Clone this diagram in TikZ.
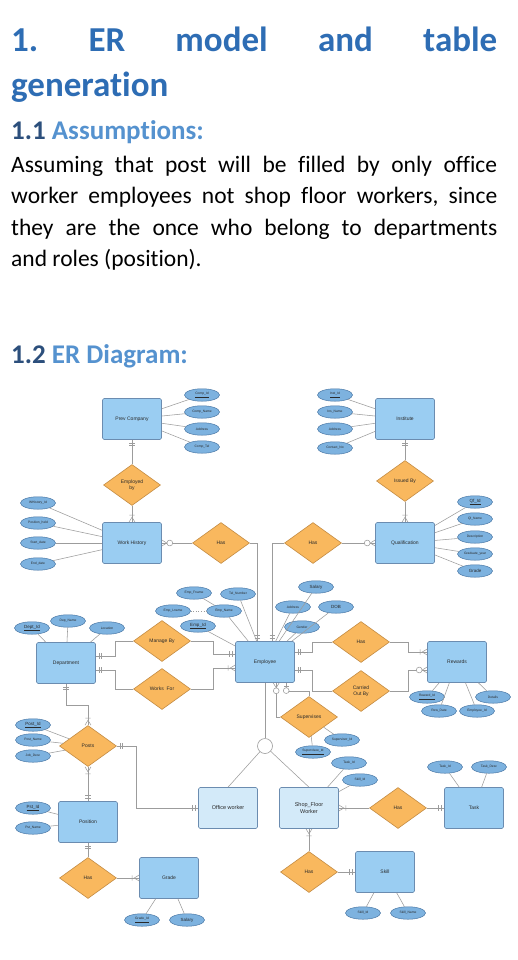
\documentclass[tikz,border=0pt]{standalone}
\usepackage{fontspec}
\setmainfont{Carlito}[Ligatures=NoCommon]
\newfontfamily\dfont{Liberation Sans}
\usetikzlibrary{shapes.geometric,calc}
\frenchspacing
\definecolor{ttl}{HTML}{2E6DB4}
\definecolor{numc}{HTML}{2C4F7C}
\definecolor{subc}{HTML}{5592CF}
\definecolor{entf}{HTML}{9ACDF2}
\definecolor{entlf}{HTML}{D3EAF9}
\definecolor{entb}{HTML}{6B8CB0}
\definecolor{relf}{HTML}{F9B85E}
\definecolor{relb}{HTML}{C48C44}
\definecolor{attf}{HTML}{7DB2DF}
\definecolor{attbd}{HTML}{4B78A6}
\definecolor{lin}{HTML}{9C9C9C}
\definecolor{txt}{HTML}{2A2A2A}
\tikzset{
 ent/.style={draw=entb, fill=entf, rounded corners=1.5pt, line width=0.6pt, minimum width=59pt, minimum height=41pt, inner sep=1pt, align=center, font=\dfont\fontsize{5}{6}\selectfont, text=txt},
 entl/.style={ent, fill=entlf, font=\dfont\fontsize{5.5}{6.5}\selectfont},
 rel/.style={diamond, draw=relb, fill=relf, line width=0.6pt, minimum width=57pt, minimum height=41pt, inner sep=0pt, align=center, font=\dfont\fontsize{5}{6}\selectfont, text=txt},
 att/.style={ellipse, draw=attbd, fill=attf, line width=0.5pt, minimum width=35pt, minimum height=12.5pt, inner sep=0pt, font=\dfont\fontsize{3.3}{3.8}\selectfont, text=txt},
 bigatt/.style={att, font=\dfont\fontsize{4.5}{5}\selectfont},
 con/.style={draw=lin, line width=0.55pt},
 mk/.style={draw=lin, line width=0.55pt},
 isac/.style={circle, draw=lin, fill=white, line width=0.6pt, minimum size=15pt, inner sep=0pt},
 pics/mone/.style={code={\draw[mk] (3,-2.6) -- (3,2.6) (5.5,-2.6) -- (5.5,2.6);}},
 pics/mmany/.style={code={\draw[mk] (0,-3) -- (5,0) -- (0,3) (7,-2.6) -- (7,2.6);}},
 pics/mzmany/.style={code={\draw[mk] (0,-3) -- (5,0) -- (0,3); \draw[mk,fill=white] (8,0) circle (2.9);}},
 pics/mzone/.style={code={\draw[mk] (3,-2.6) -- (3,2.6); \draw[mk,fill=white] (7.8,0) circle (2.9);}},
 body/.style={anchor=base west, inner sep=0pt, font=\fontsize{23.5}{28}\selectfont, text=black},
}
\begin{document}
\begin{tikzpicture}[x=1pt,y=-1pt]
\useasboundingbox (0,0) rectangle (517,960);
\fill[white] (0,0) rectangle (517,960);
% ---------- text ----------
\node[anchor=base west, inner sep=0pt, font=\fontsize{35}{40}\bfseries\selectfont, text=ttl] (t1) at (11,52) {\makebox[486pt][s]{1. ER model and table}};
\node[anchor=base west, inner sep=0pt, font=\fontsize{35}{40}\bfseries\selectfont, text=ttl] (t2) at (11,97) {generation};
\node[anchor=base west, inner sep=0pt, font=\fontsize{27}{32}\bfseries\selectfont] (h1) at (11,140) {\textcolor{numc}{1.1} \textcolor{subc}{Assumptions:}};
\node[body] (b1) at (11,173) {\makebox[486pt][s]{Assuming that post will be filled by only office}};
\node[body] (b2) at (11,204) {\makebox[486pt][s]{worker employees not shop floor workers, since}};
\node[body] (b3) at (11,235) {\makebox[486pt][s]{they are the once who belong to departments}};
\node[body] (b4) at (11,266) {and roles (position).};
\node[anchor=base west, inner sep=0pt, font=\fontsize{27}{32}\bfseries\selectfont] (h2) at (11,363) {\textcolor{numc}{1.2} \textcolor{subc}{ER Diagram:}};
% ---------- entities ----------
\node[ent] (pc) at (132,419) {Prev Company};
\node[ent] (inst) at (405,419) {Institute};
\node[ent] (wh) at (132,543) {Work History};
\node[ent] (qual) at (405,543) {Qualification};
\node[ent] (emp) at (265,662) {Employee};
\node[ent] (dept) at (66,663) {Department};
\node[ent] (rew) at (457,662) {Rewards};
\node[entl] (ow) at (228,808) {Office worker};
\node[entl] (sfw) at (309,808) {Shop\_Floor\\Worker};
\node[ent] (pos) at (88,822) {Position};
\node[ent] (grade) at (169,878) {Grade};
\node[ent] (skill) at (385,872) {Skill};
\node[ent] (task) at (474,808) {Task};
% ---------- relationships ----------
\node[rel] (emb) at (132,485) {Employed\\by};
\node[rel] (isb) at (405,481) {Issued By};
\node[rel] (has1) at (221,543) {Has};
\node[rel] (has2) at (313,543) {Has};
\node[rel] (mby) at (162,641) {Manage By};
\node[rel] (wf) at (162,689) {Works\ \ For};
\node[rel] (hasr) at (361,642) {Has};
\node[rel] (cob) at (361,691) {Carried\\Out By};
\node[rel] (sup) at (309,717) {Supervises};
\node[rel] (posts) at (88,746) {Posts};
\node[rel] (hasg) at (88,878) {Has};
\node[rel] (hass) at (309,872) {Has};
\node[rel] (hast) at (398,808) {Has};
\node[isac] (isa) at (265,746) {};
% ---------- attributes ----------
\node[att] (pc1) at (202,395) {\underline{Comp\_Id}};
\node[att] (pc2) at (202,412) {Comp\_Name};
\node[att] (pc3) at (202,429) {Address};
\node[att] (pc4) at (202,447) {Comp\_Tel};
\node[att] (in1) at (335,395) {\underline{Inst\_Id}};
\node[att] (in2) at (335,412) {Ins\_Name};
\node[att] (in3) at (335,429) {Address};
\node[att] (in4) at (335,448) {Contact\_No};
\node[att] (wh1) at (38,503) {WHistory\_Id};
\node[att] (wh2) at (38,523) {Position\_held};
\node[att] (wh3) at (38,543) {Start\_date};
\node[att] (wh4) at (38,564) {End\_date};
\node[bigatt] (q1) at (475,502) {\underline{Qf\_Id}};
\node[att] (q2) at (475,519) {Ql\_Name};
\node[att] (q3) at (475,537) {Description};
\node[att] (q4) at (475,554) {Graduate\_year};
\node[bigatt] (q5) at (475,571) {Grade};
\node[att] (e1) at (194,593) {Emp\_Fname};
\node[att] (e2) at (238,594) {Tel\_Number};
\node[att] (e3) at (173,611) {Emp\_Lname};
\node[att] (e4) at (224,611) {Emp\_Name};
\node[bigatt] (e5) at (198,626) {\underline{Emp\_Id}};
\node[bigatt] (e6) at (316,587) {Salary};
\node[att] (e7) at (293,607) {Address};
\node[bigatt] (e8) at (336,607) {DOB};
\node[att] (e9) at (302,627) {Gender};
\node[bigatt] (d1) at (32,628) {\underline{Dept\_Id}};
\node[att] (d2) at (68,621) {Dep\_Name};
\node[att] (d3) at (107,628) {Location};
\node[att] (r1) at (427,697) {\underline{Reward\_Id}};
\node[att] (r2) at (439,711) {Rew\_Date};
\node[att] (r3) at (477,711) {Employee\_Id};
\node[att] (r4) at (493,697) {Details};
\node[att] (s1) at (342,740) {Supervisor\_Id};
\node[att] (s2) at (313,752) {\underline{Supervisee\_Id}};
\node[att] (sf1) at (349,763) {Task\_Id};
\node[att] (sf2) at (360,780) {Skill\_Id};
\node[bigatt] (po1) at (33,725) {\underline{Post\_Id}};
\node[att] (po2) at (33,740) {Post\_Name};
\node[att] (po3) at (33,756) {Job\_Desc};
\node[bigatt] (ps1) at (33,808) {\underline{Pst\_Id}};
\node[att] (ps2) at (33,828) {Pst\_Name};
\node[att] (g1) at (142,920) {\underline{Grade\_Id}};
\node[bigatt] (g2) at (187,920) {Salary};
\node[att] (sk1) at (363,913) {Skill\_Id};
\node[att] (sk2) at (408,913) {Skill\_Name};
\node[att] (t1a) at (445,767) {Task\_Id};
\node[att] (t2a) at (489,767) {Task\_Desc};
% ---------- attribute lines ----------
\foreach \a in {pc1,pc2,pc3,pc4} \draw[con] (\a) -- (pc);
\foreach \a in {in1,in2,in3,in4} \draw[con] (\a) -- (inst);
\foreach \a in {wh1,wh2,wh3,wh4} \draw[con] (\a) -- (wh);
\foreach \a in {q1,q2,q3,q4,q5} \draw[con] (\a) -- (qual);
\foreach \a in {e2,e4,e5,e6,e7,e8,e9} \draw[con] (\a) -- (emp);
\draw[con] (e1) -- (e4);
\draw[con, dotted] (e3) -- (e4);
\foreach \a in {d1,d2,d3} \draw[con] (\a) -- (dept);
\foreach \a in {r1,r2,r3,r4} \draw[con] (\a) -- (rew);
\foreach \a in {s1,s2} \draw[con] (\a) -- (sup);
\foreach \a in {sf1,sf2} \draw[con] (\a) -- (sfw);
\foreach \a in {po1,po2,po3} \draw[con] (\a) -- (posts);
\foreach \a in {ps1,ps2} \draw[con] (\a) -- (pos);
\foreach \a in {g1,g2} \draw[con] (\a) -- (grade);
\foreach \a in {sk1,sk2} \draw[con] (\a) -- (skill);
\foreach \a in {t1a,t2a} \draw[con] (\a) -- (task);
% ---------- relationship connectors ----------
\draw[con] (emb.north) -- (pc.south);
\draw[con] (emb.south) -- (wh.north);
\draw[con] (isb.north) -- (inst.south);
\draw[con] (isb.south) -- (qual.north);
\draw[con] (has1.west) -- (wh.east);
\coordinate (eh1) at ($(emp.north west)+(22,0)$);
\coordinate (eh2) at ($(emp.north west)+(37,0)$);
\draw[con] (has1.east) -| (eh1);
\draw[con] (has2.west) -| (eh2);
\draw[con] (has2.east) -- (qual.west);
\coordinate (dm1) at ($(dept.east)+(0,-7)$);
\coordinate (dm2) at ($(dept.east)+(0,7)$);
\coordinate (ew1) at ($(emp.west)+(0,-8)$);
\coordinate (ew2) at ($(emp.west)+(0,6)$);
\coordinate (ee1) at ($(emp.east)+(0,-10)$);
\coordinate (ee2) at ($(emp.east)+(0,8)$);
\coordinate (rw1) at ($(rew.west)+(0,-10)$);
\coordinate (rw2) at ($(rew.west)+(0,8)$);
\coordinate (es1) at ($(emp.south west)+(41,0)$);
\coordinate (es2) at ($(emp.south west)+(51,0)$);
\draw[con] (mby.west) -- ++(-18,0) |- (dm1);
\draw[con] (mby.east) -- ++(22,0) |- (ew1);
\draw[con] (wf.west) -- ++(-18,0) |- (dm2);
\draw[con] (wf.east) -- ++(22,0) |- (ew2);
\draw[con] (hasr.west) -- ++(-20,0) |- (ee1);
\draw[con] (hasr.east) -- ++(18,0) |- (rw1);
\draw[con] (cob.west) -- ++(-20,0) |- (ee2);
\draw[con] (cob.east) -- ++(18,0) |- (rw2);
\draw[con] (sup.west) -| (es1);
\draw[con] (sup.north) -- ++(0,-5) -| (es2);
\draw[con] (emp.south) -- (isa);
\draw[con] (isa) -- (ow.north);
\draw[con] (isa) -- (sfw.north);
\draw[con] (dept.south) -- ++(0,21) -| (posts.north);
\draw[con] (posts.east) -- ++(19,0) |- (ow.west);
\draw[con] (pos.north) -- (posts.south);
\draw[con] (hasg.north) -- (pos.south);
\draw[con] (hasg.east) -- (grade.west);
\draw[con] (hass.north) -- (sfw.south);
\draw[con] (hass.east) -- (skill.west);
\draw[con] (hast.west) -- (sfw.east);
\draw[con] (hast.east) -- (task.west);
% ---------- cardinality markers ----------
\pic[rotate=-90] at (pc.south) {mone};
\pic[rotate=90] at (wh.north) {mmany};
\pic[rotate=-90] at (inst.south) {mone};
\pic[rotate=90] at (qual.north) {mmany};
\pic[rotate=0] at (wh.east) {mzmany};
\pic[rotate=180] at (qual.west) {mzmany};
\pic[rotate=90] at (eh1) {mone};
\pic[rotate=90] at (eh2) {mone};
\pic[rotate=0] at (dm1) {mone};
\pic[rotate=0] at (dm2) {mone};
\pic[rotate=180] at (ew1) {mone};
\pic[rotate=180] at (ew2) {mmany};
\pic[rotate=0] at (ee1) {mone};
\pic[rotate=0] at (ee2) {mone};
\pic[rotate=180] at (rw1) {mmany};
\pic[rotate=180] at (rw2) {mzmany};
\pic[rotate=-90] at (es1) {mzmany};
\pic[rotate=-90] at (es2) {mzone};
\pic[rotate=-90] at (dept.south) {mone};
\pic[rotate=90] at (posts.north) {mmany};
\pic[rotate=0] at (posts.east) {mone};
\pic[rotate=180] at (ow.west) {mone};
\pic[rotate=90] at (pos.north) {mone};
\pic[rotate=-90] at (posts.south) {mmany};
\pic[rotate=-90] at (pos.south) {mone};
\pic[rotate=180] at (grade.west) {mmany};
\pic[rotate=-90] at (sfw.south) {mmany};
\pic[rotate=180] at (skill.west) {mone};
\pic[rotate=0] at (sfw.east) {mmany};
\pic[rotate=180] at (task.west) {mone};
\end{tikzpicture}
\end{document}
